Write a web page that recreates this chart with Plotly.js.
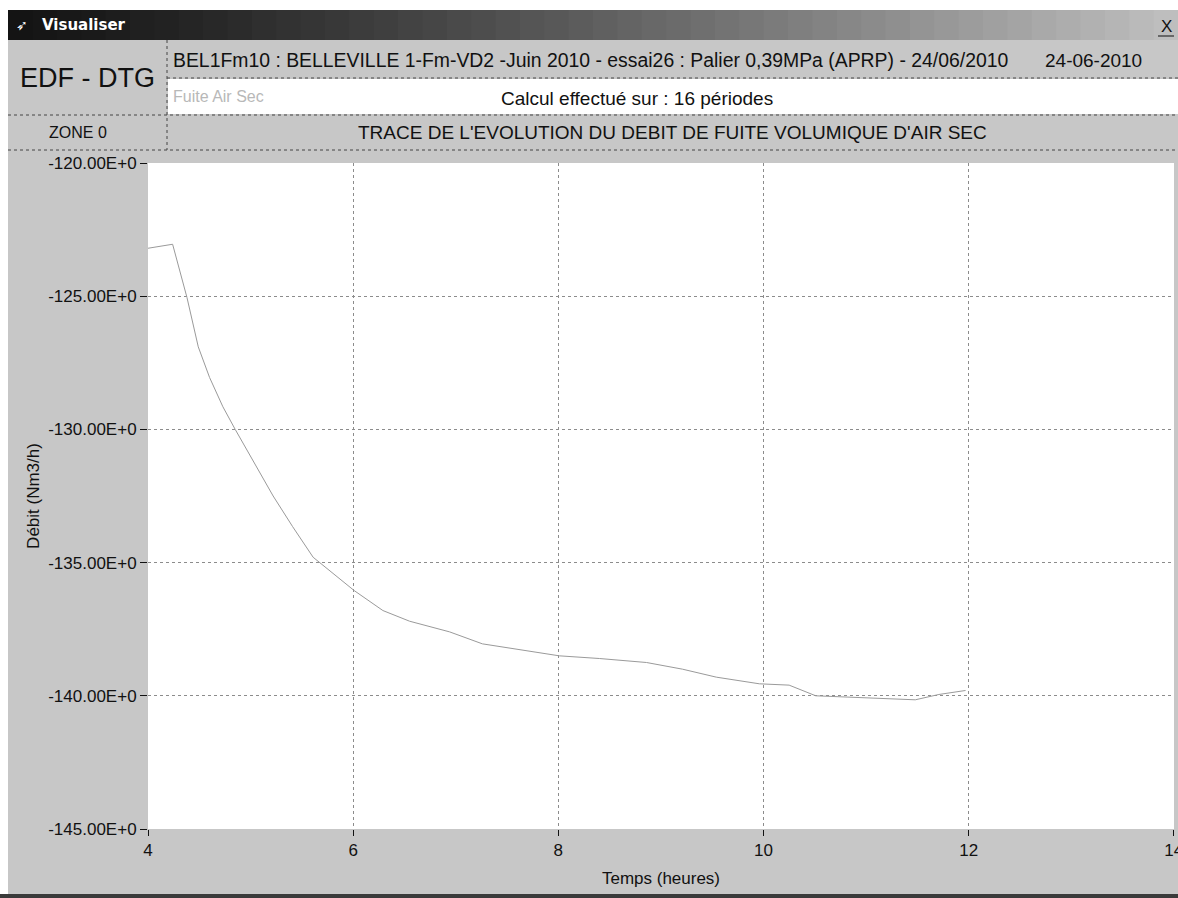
<!DOCTYPE html>
<html>
<head>
<meta charset="utf-8">
<script src="https://cdn.plot.ly/plotly-3.0.1.min.js"></script>
<style>
  html, body { margin: 0; padding: 0; background: #ffffff; }
  #chart { width: 1178px; height: 898px; }
</style>
</head>
<body>
<div id="chart"></div>
<script>
// ---- Data ----
var hours = [4.00, 4.24, 4.38, 4.49, 4.60, 4.73, 4.85, 5.06, 5.22, 5.41, 5.61, 6.01, 6.29, 6.55, 6.94, 7.26, 7.69, 8.01, 8.40, 8.86, 9.21, 9.54, 9.96, 10.25, 10.51, 11.15, 11.48, 11.71, 11.97];
var debit = [-123.2, -123.05, -125.05, -126.9, -128.05, -129.15, -130.0, -131.45, -132.5, -133.65, -134.8, -136.05, -136.8, -137.2, -137.6, -138.05, -138.3, -138.5, -138.6, -138.75, -139.0, -139.3, -139.55, -139.6, -140.0, -140.1, -140.15, -139.95, -139.8];

var xTickVals = [4, 6, 8, 10, 12, 14];
var xTickText = ["4", "6", "8", "10", "12", "14"];
var yTickVals = [-120, -125, -130, -135, -140, -145];
var yTickText = ["-120.00E+0", "-125.00E+0", "-130.00E+0", "-135.00E+0", "-140.00E+0", "-145.00E+0"];

var windowTitle = "Visualiser";
var headerLeft = "EDF - DTG";
var headerLine1 = "BEL1Fm10 : BELLEVILLE 1-Fm-VD2 -Juin 2010 - essai26 : Palier 0,39MPa (APRP) - 24/06/2010";
var headerDate = "24-06-2010";
var headerSub = "Fuite Air Sec";
var headerCalc = "Calcul effectué sur : 16 périodes";
var headerZone = "ZONE 0";
var headerTrace = "TRACE DE L'EVOLUTION DU DEBIT DE FUITE VOLUMIQUE D'AIR SEC";
var xTitle = "Temps (heures)";
var yTitle = "Débit (Nm3/h)";

// ---- Layout geometry (pixels) ----
var W = 1178, H = 898;
var ML = 148, MR = 4, MT = 163, MB = 69;
var PW = W - ML - MR, PH = H - MT - MB;
function px(x) { return (x - ML) / PW; }
function py(y) { return (H - MB - y) / PH; }

var FONT = "Liberation Sans, Arial, sans-serif";
var shapes = [];
function rect(x0, y0, x1, y1, color) {
  shapes.push({type: "rect", xref: "paper", yref: "paper", x0: px(x0), x1: px(x1), y0: py(y0), y1: py(y1),
    fillcolor: color, line: {width: 0}, layer: "below"});
}
function dline(x0, y0, x1, y1, color, dash) {
  shapes.push({type: "line", xref: "paper", yref: "paper", x0: px(x0), x1: px(x1), y0: py(y0), y1: py(y1),
    line: {color: color, width: 1, dash: dash || "dot"}, layer: "above"});
}

// window background (gray frame around the white plot area)
rect(8, 40, 1178, MT, "#c7c7c7");
rect(8, MT, ML, H - MB, "#c7c7c7");
rect(W - MR, MT, 1178, H - MB, "#c7c7c7");
rect(8, H - MB, 1178, 896, "#c7c7c7");
rect(168, 79, 1178, 114, "#ffffff");
rect(0, 894, 1178, 898, "#3a3a3a");
// title bar gradient
var steps = 48;
for (var i = 0; i < steps; i++) {
  var t = i / (steps - 1);
  var c = Math.round(20 + Math.pow(t, 1.2) * 170);
  var col = "rgb(" + c + "," + c + "," + c + ")";
  var x0 = 8 + (1178 - 8) * i / steps;
  var x1 = 8 + (1178 - 8) * (i + 1) / steps + 1;
  rect(x0, 10, x1, 40, col);
}
// header grid lines
dline(167, 78, 1178, 78, "#444");
dline(8, 115, 1178, 115, "#444");
dline(8, 150, 1178, 150, "#444");
dline(167, 40, 167, 150, "#444");
// close button underline
dline(1158, 36, 1174, 36, "#111", "solid");

var annotations = [];
function ann(text, x, y, size, color, anchor, family) {
  annotations.push({text: text, xref: "paper", yref: "paper", x: px(x), y: py(y), xanchor: anchor || "center",
    yanchor: "middle", showarrow: false, font: {family: family || FONT, size: size, color: color || "#111"}});
}
ann("<b>" + windowTitle + "</b>", 40, 25, 15, "#ffffff", "left", "DejaVu Sans, Verdana, sans-serif");
ann("➶", 22, 25, 14, "#ffffff", "center");
ann("X", 1166, 26, 17, "#111", "center");
ann(headerLeft, 87, 78, 27, "#111", "center");
ann(headerLine1, 171, 60, 19.4, "#111", "left");
ann(headerDate, 1144, 60, 19, "#111", "right");
ann(headerSub, 171, 97, 16, "#b8b8b8", "left");
ann(headerCalc, 637, 98, 19, "#111", "center");
ann(headerZone, 78, 132, 16, "#111", "center");
ann(headerTrace, 672, 132, 19, "#111", "center");

var trace = {
  x: hours, y: debit, type: "scatter", mode: "lines",
  line: {color: "#9a9a9a", width: 1},
  hoverinfo: "x+y", showlegend: false
};

var layout = {
  width: W, height: H,
  margin: {l: ML, r: MR, t: MT, b: MB, pad: 0},
  paper_bgcolor: "#ffffff",
  plot_bgcolor: "#ffffff",
  showlegend: false,
  font: {family: FONT, size: 17, color: "#111"},
  xaxis: {
    range: [4, 14.002], tickmode: "array", tickvals: xTickVals, ticktext: xTickText,
    ticks: "outside", ticklen: 6, tickwidth: 1, tickcolor: "#111",
    ticklabeloverflow: "allow",
    showgrid: true, gridcolor: "#8c8c8c", griddash: "dot", gridwidth: 1,
    zeroline: false, showline: false,
    tickfont: {family: FONT, size: 17, color: "#111"},
    title: {text: xTitle, font: {family: FONT, size: 17, color: "#111"}, standoff: 12},
    automargin: false, fixedrange: true
  },
  yaxis: {
    range: [-145, -120], tickmode: "array", tickvals: yTickVals, ticktext: yTickText,
    ticks: "outside", ticklen: 7, tickwidth: 1, tickcolor: "#111",
    showgrid: true, gridcolor: "#8c8c8c", griddash: "dot", gridwidth: 1,
    zeroline: false, showline: false,
    tickfont: {family: FONT, size: 17, color: "#111"},
    title: {text: yTitle, font: {family: FONT, size: 17, color: "#111"}, standoff: 4},
    automargin: false, fixedrange: true
  },
  shapes: shapes,
  annotations: annotations
};

Plotly.newPlot("chart", [trace], layout, {displayModeBar: false, staticPlot: true});
</script>
</body>
</html>
